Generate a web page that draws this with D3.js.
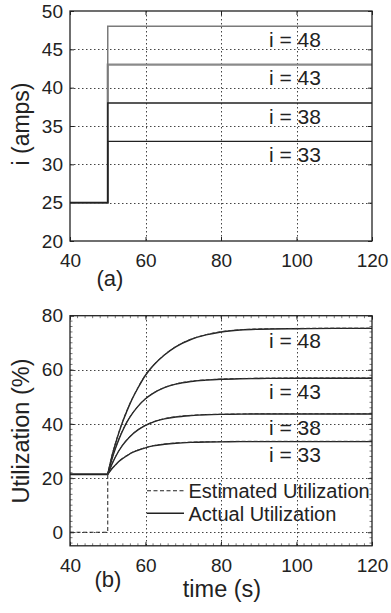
<!DOCTYPE html>
<html><head><meta charset="utf-8">
<script src="https://cdn.jsdelivr.net/npm/d3@7"></script>
<style>
html,body{margin:0;padding:0;background:#fff;}
svg{display:block;font-family:"Liberation Sans",Arial,sans-serif;}
</style></head>
<body>
<svg id="c" width="391" height="613"></svg>
<script>
// ---------- data ----------
const xTicks = [40, 60, 80, 100, 120];
const yTicksA = [20, 25, 30, 35, 40, 45, 50];
const yTicksB = [0, 20, 40, 60, 80];
const levels = [48, 43, 38, 33];
const stepT = [40, 50, 120];
const step48 = [25, 48, 48];
const step43 = [25, 43, 43];
const step38 = [25, 38, 38];
const step33 = [25, 33, 33];

const preT = [40, 50];
const actualPre = [21.4, 21.4];
const estPreT = [40, 50, 50];
const estPre = [0, 0, 21.4];

const curT = [50, 51, 52, 53, 54, 55, 56, 58, 60, 62, 65, 68, 72, 76, 80, 85, 90, 100, 110, 120];
const actual48 = [21.4, 27.5, 32.5, 37.0, 41.0, 44.5, 47.8, 53.3, 58.0, 61.5, 65.5, 68.5, 71.2, 72.9, 74.0, 74.7, 75.0, 75.2, 75.3, 75.3];
const actual43 = [21.4, 26.5, 30.8, 34.5, 37.7, 40.5, 42.8, 46.5, 49.3, 51.3, 53.4, 54.7, 55.7, 56.2, 56.5, 56.7, 56.8, 56.9, 56.9, 56.9];
const actual38 = [21.4, 24.8, 27.7, 30.2, 32.3, 34.0, 35.5, 37.8, 39.5, 40.7, 41.9, 42.6, 43.1, 43.4, 43.55, 43.65, 43.7, 43.7, 43.7, 43.7];
const actual33 = [21.4, 23.3, 24.8, 26.2, 27.3, 28.2, 29.1, 30.3, 31.2, 31.9, 32.5, 32.9, 33.2, 33.35, 33.4, 33.5, 33.5, 33.5, 33.5, 33.5];
const est48 = [21.4, 27.8, 32.8, 37.3, 41.2, 44.8, 48.0, 53.5, 58.2, 61.6, 65.6, 68.6, 71.3, 73.0, 74.1, 74.8, 75.1, 75.3, 75.4, 75.4];
const est43 = [21.4, 26.7, 31.0, 34.7, 37.9, 40.6, 42.9, 46.6, 49.4, 51.4, 53.5, 54.8, 55.8, 56.3, 56.6, 56.8, 56.9, 57.0, 57.0, 57.0];
const est38 = [21.4, 24.9, 27.8, 30.3, 32.4, 34.1, 35.6, 37.9, 39.6, 40.8, 42.0, 42.7, 43.2, 43.5, 43.6, 43.7, 43.8, 43.8, 43.8, 43.8];
const est33 = [21.4, 23.4, 24.9, 26.3, 27.4, 28.3, 29.2, 30.4, 31.3, 32.0, 32.6, 33.0, 33.3, 33.4, 33.5, 33.6, 33.6, 33.6, 33.6, 33.6];

const legendLabels = ["Estimated Utilization", "Actual Utilization"];

// ---------- layout ----------
const svg = d3.select("#c");
const L = 70, R = 372;
const A = {top: 11, bottom: 241};
const B = {top: 315.7, bottom: 545.8};
const ink = "#222";

const x = d3.scaleLinear().domain([40, 120]).range([L, R]);
const yA = d3.scaleLinear().domain([20, 50]).range([A.bottom, A.top]);
const yB = d3.scaleLinear().domain([-5, 80]).range([B.bottom, B.top]);

const snap = v => Math.round(v) + 0.5;

function panel(y, top, bottom, yTicks, minor) {
  const g = svg.append("g");
  // grid (dotted)
  const gg = g.append("g").attr("class", "grid");
  xTicks.filter(t => t > 40 && t < 120).forEach(t => {
    const xx = snap(x(t));
    gg.append("path").attr("d", `M${xx},${Math.round(top)}V${Math.round(bottom)}`)
      .attr("fill", "none").attr("stroke", "#444").attr("stroke-width", 1).attr("stroke-dasharray", "1.5,2.5");
  });
  yTicks.forEach(t => {
    const yy = y(t);
    if (yy > top + 1 && yy < bottom - 1) {
      gg.append("path").attr("d", `M${L},${snap(yy)}H${R}`)
        .attr("fill", "none").attr("stroke", "#444").attr("stroke-width", 1).attr("stroke-dasharray", "1.5,2.5");
    }
  });
  // axes via d3 axis (ticks inward)
  const xb = d3.axisBottom(x).tickValues(xTicks).tickSize(-4).tickFormat(d3.format("d")).tickPadding(10);
  const gx = g.append("g").attr("transform", `translate(0,${bottom})`).call(xb);
  gx.select(".domain").remove();
  gx.selectAll("text").attr("font-size", 19).attr("fill", ink).attr("dy", "0.85em");
  gx.selectAll("line").attr("stroke", ink);
  const xt = d3.axisTop(x).tickValues(xTicks).tickSize(-4).tickFormat("");
  const gxt = g.append("g").attr("transform", `translate(0,${top})`).call(xt);
  gxt.select(".domain").remove(); gxt.selectAll("line").attr("stroke", ink);
  const yl = d3.axisLeft(y).tickValues(yTicks).tickSize(-4).tickFormat(d3.format("d")).tickPadding(7);
  const gy = g.append("g").attr("transform", `translate(${L},0)`).call(yl);
  gy.select(".domain").remove();
  gy.selectAll("text").attr("font-size", 19).attr("fill", ink);
  gy.selectAll("line").attr("stroke", ink);
  const yr = d3.axisRight(y).tickValues(yTicks).tickSize(-4).tickFormat("");
  const gyr = g.append("g").attr("transform", `translate(${R},0)`).call(yr);
  gyr.select(".domain").remove(); gyr.selectAll("line").attr("stroke", ink);
  if (minor) {
    const mx = d3.range(42, 120, 2), my = d3.range(-4, 80, 2);
    mx.forEach(t => {
      g.append("line").attr("x1", x(t)).attr("x2", x(t)).attr("y1", bottom).attr("y2", bottom - 2.5).attr("stroke", "#555").attr("stroke-width", 0.8);
      g.append("line").attr("x1", x(t)).attr("x2", x(t)).attr("y1", top).attr("y2", top + 2.5).attr("stroke", "#555").attr("stroke-width", 0.8);
    });
    my.forEach(t => {
      g.append("line").attr("x1", L).attr("x2", L + 2.5).attr("y1", y(t)).attr("y2", y(t)).attr("stroke", "#555").attr("stroke-width", 0.8);
      g.append("line").attr("x1", R).attr("x2", R - 2.5).attr("y1", y(t)).attr("y2", y(t)).attr("stroke", "#555").attr("stroke-width", 0.8);
    });
  }
  return g;
}

function frame(top, bottom) {
  svg.append("rect").attr("x", L).attr("y", top).attr("width", R - L).attr("height", bottom - top)
    .attr("fill", "none").attr("stroke", ink).attr("stroke-width", 1.3);
}

// ---------- panel (a) ----------
panel(yA, A.top, A.bottom, yTicksA, false);
const lineA = d3.line().x((d, i) => x(stepT[i])).y(d => yA(d)).curve(d3.curveStepAfter);
const stepSeries = [
  {v: step43, c: "#8a8a8a", w: 2.2},
  {v: step48, c: "#7a7a7a", w: 1.5},
  {v: step38, c: "#222", w: 1.3},
  {v: step33, c: "#222", w: 1.3}
];
stepSeries.forEach(s => {
  svg.append("path").attr("d", lineA(s.v)).attr("fill", "none").attr("stroke", s.c).attr("stroke-width", s.w);
});
frame(A.top, A.bottom);

levels.forEach((lv, i) => {
  svg.append("text").attr("x", 269).attr("y", yA(lv) + 20.7).attr("font-size", 21).attr("fill", ink).text("i = " + lv);
});
svg.append("text").attr("transform", "translate(29,124) rotate(-90)").attr("text-anchor", "middle")
  .attr("font-size", 23).attr("fill", ink).text("i (amps)");
svg.append("text").attr("x", 110).attr("y", 286).attr("text-anchor", "middle").attr("font-size", 22).attr("fill", ink).text("(a)");

// ---------- panel (b) ----------
panel(yB, B.top, B.bottom, yTicksB, true);
const lineB = d3.line().x((d, i) => x(curT[i])).y(d => yB(d)).curve(d3.curveMonotoneX);
const preLine = d3.line().x((d, i) => x(preT[i])).y(d => yB(d));
const estPreLine = d3.line().x((d, i) => x(estPreT[i])).y(d => yB(d));

[actual48, actual43, actual38, actual33].forEach(s => {
  svg.append("path").attr("d", lineB(s)).attr("fill", "none").attr("stroke", ink).attr("stroke-width", 1.4);
});
svg.append("path").attr("d", preLine(actualPre)).attr("fill", "none").attr("stroke", ink).attr("stroke-width", 2);
[est48, est43, est38, est33].forEach(s => {
  svg.append("path").attr("d", lineB(s)).attr("fill", "none").attr("stroke", "#333").attr("stroke-width", 1).attr("stroke-dasharray", "4,2");
});
svg.append("path").attr("d", estPreLine(estPre)).attr("fill", "none").attr("stroke", ink).attr("stroke-width", 1).attr("stroke-dasharray", "4,2.5");
frame(B.top, B.bottom);

const finals = [75.3, 56.9, 43.7, 33.5];
const offB = [20, 21, 21, 20.5];
levels.forEach((lv, i) => {
  svg.append("text").attr("x", 269).attr("y", yB(finals[i]) + offB[i]).attr("font-size", 21).attr("fill", ink).text("i = " + lv);
});

// legend
const legY = [490.7, 513.3];
svg.append("line").attr("x1", 147).attr("x2", 184).attr("y1", legY[0]).attr("y2", legY[0])
  .attr("stroke", ink).attr("stroke-width", 1.1).attr("stroke-dasharray", "4,2.5");
svg.append("line").attr("x1", 147).attr("x2", 184).attr("y1", legY[1]).attr("y2", legY[1])
  .attr("stroke", ink).attr("stroke-width", 1.4);
legendLabels.forEach((t, i) => {
  svg.append("text").attr("x", 188.5).attr("y", legY[i] + 7.3).attr("font-size", 20).attr("fill", ink).text(t);
});

svg.append("text").attr("transform", "translate(29,431) rotate(-90)").attr("text-anchor", "middle")
  .attr("font-size", 23.5).attr("fill", ink).text("Utilization (%)");
svg.append("text").attr("x", 108).attr("y", 587).attr("text-anchor", "middle").attr("font-size", 22).attr("fill", ink).text("(b)");
svg.append("text").attr("x", 222).attr("y", 597).attr("text-anchor", "middle").attr("font-size", 23.5).attr("fill", ink).text("time (s)");
</script>
</body></html>
